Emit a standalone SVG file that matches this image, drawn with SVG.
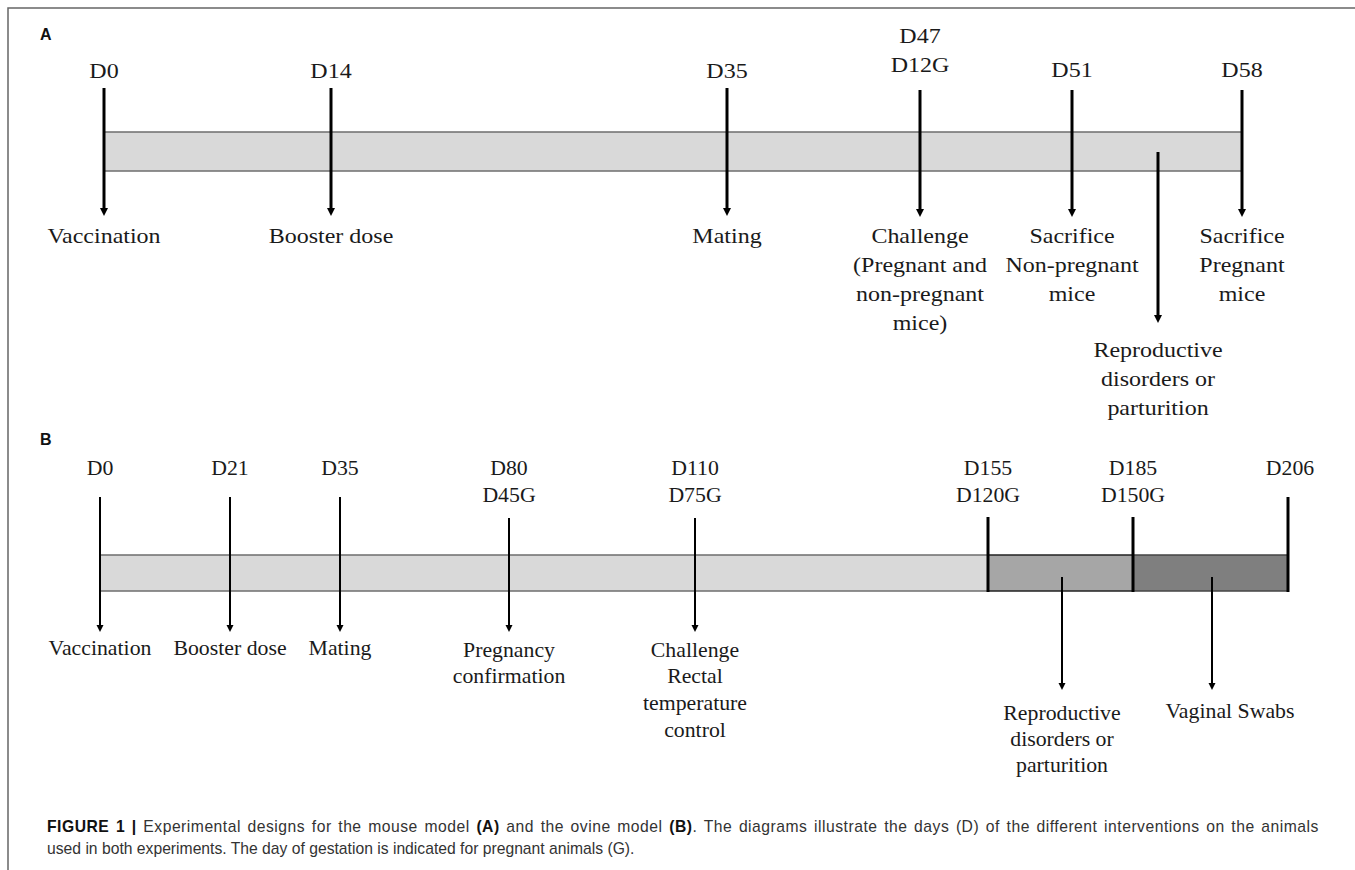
<svg xmlns="http://www.w3.org/2000/svg" width="1355" height="870" viewBox="0 0 1355 870">
<style>
.t{font-family:"Liberation Serif","Times New Roman",serif;font-size:20px;fill:#1a1a1a;text-anchor:middle}
.pl{font-family:"Liberation Sans",Arial,sans-serif;font-size:16px;font-weight:bold;fill:#111}
.cap{font-family:"Liberation Sans",Arial,sans-serif;font-size:15.7px;fill:#333}
.b{font-weight:bold;fill:#111}
.arA{stroke:#000;stroke-width:3;fill:none}
.arB{stroke:#000;stroke-width:2;fill:none}
.tick{stroke:#000;stroke-width:3;fill:none}
.bar{stroke:#6e6e6e;stroke-width:1.5}
</style>
<defs>
<marker id="hA" markerUnits="userSpaceOnUse" markerWidth="9" markerHeight="9" refX="0" refY="4" orient="auto"><path d="M0,0 L8,4 L0,8 z" fill="#000"/></marker>
<marker id="hB" markerUnits="userSpaceOnUse" markerWidth="8" markerHeight="8" refX="0" refY="3.5" orient="auto"><path d="M0,0 L7,3.5 L0,7 z" fill="#000"/></marker>
</defs>
<rect width="1355" height="870" fill="#fff"/>
<path d="M8,870 V8 H1355" stroke="#666" stroke-width="1.5" fill="none"/>

<g id="panelA">
<text class="pl" x="40" y="40">A</text>
<rect id="barA" class="bar" x="104" y="132" width="1138" height="39" fill="#d9d9d9"/>
</g>

<g id="panelB">
<text class="pl" x="40" y="445">B</text>
<rect class="bar" x="100" y="555" width="888" height="36" fill="#d9d9d9"/>
<rect x="988" y="555" width="145" height="36" fill="#a6a6a6" stroke="#222" stroke-width="1.5"/>
<rect x="1133" y="555" width="155" height="36" fill="#7f7f7f" stroke="#444" stroke-width="1.5"/>
<line class="tick" x1="988" y1="517" x2="988" y2="592"/>
<line class="tick" x1="1133" y1="517" x2="1133" y2="592"/>
<line class="tick" x1="1288" y1="497" x2="1288" y2="592" stroke-width="2.5"/>
</g>

<g id="connectors">
<line class="arA" x1="104" y1="88" x2="104" y2="208" marker-end="url(#hA)"/>
<line class="arA" x1="331" y1="88" x2="331" y2="208" marker-end="url(#hA)"/>
<line class="arA" x1="727" y1="88" x2="727" y2="208" marker-end="url(#hA)"/>
<line class="arA" x1="920" y1="90" x2="920" y2="209" marker-end="url(#hA)"/>
<line class="arA" x1="1072" y1="90" x2="1072" y2="209" marker-end="url(#hA)"/>
<line class="arA" x1="1242" y1="90" x2="1242" y2="209" marker-end="url(#hA)"/>
<line class="arA" x1="1158" y1="152" x2="1158" y2="315" marker-end="url(#hA)"/>

<line class="arB" x1="100" y1="497" x2="100" y2="625" marker-end="url(#hB)"/>
<line class="arB" x1="230" y1="497" x2="230" y2="625" marker-end="url(#hB)"/>
<line class="arB" x1="340" y1="497" x2="340" y2="625" marker-end="url(#hB)"/>
<line class="arB" x1="509" y1="518" x2="509" y2="625" marker-end="url(#hB)"/>
<line class="arB" x1="695" y1="518" x2="695" y2="625" marker-end="url(#hB)"/>
<line class="arB" x1="1062" y1="577" x2="1062" y2="683" marker-end="url(#hB)"/>
<line class="arB" x1="1212" y1="577" x2="1212" y2="683" marker-end="url(#hB)"/>
</g>

<g id="nodesA">
<g id="a-d0"><text class="t" transform="translate(104 78) scale(1.2 1)">D0</text><text class="t" transform="translate(104 243) scale(1.2 1)">Vaccination</text></g>
<g id="a-d14"><text class="t" transform="translate(331 78) scale(1.2 1)">D14</text><text class="t" transform="translate(331 243) scale(1.2 1)">Booster dose</text></g>
<g id="a-d35"><text class="t" transform="translate(727 78) scale(1.2 1)">D35</text><text class="t" transform="translate(727 243) scale(1.2 1)">Mating</text></g>
<g id="a-d47"><text class="t" transform="translate(920 43) scale(1.2 1)"><tspan x="0" y="0">D47</tspan><tspan x="0" y="29">D12G</tspan></text>
<text class="t" transform="translate(920 243) scale(1.2 1)"><tspan x="0" y="0">Challenge</tspan><tspan x="0" y="29">(Pregnant and</tspan><tspan x="0" y="58">non-pregnant</tspan><tspan x="0" y="87">mice)</tspan></text></g>
<g id="a-d51"><text class="t" transform="translate(1072 77) scale(1.2 1)">D51</text>
<text class="t" transform="translate(1072 243) scale(1.2 1)"><tspan x="0" y="0">Sacrifice</tspan><tspan x="0" y="29">Non-pregnant</tspan><tspan x="0" y="58">mice</tspan></text></g>
<g id="a-d58"><text class="t" transform="translate(1242 77) scale(1.2 1)">D58</text>
<text class="t" transform="translate(1242 243) scale(1.2 1)"><tspan x="0" y="0">Sacrifice</tspan><tspan x="0" y="29">Pregnant</tspan><tspan x="0" y="58">mice</tspan></text></g>
<g id="a-repro"><text class="t" transform="translate(1158 357) scale(1.2 1)"><tspan x="0" y="0">Reproductive</tspan><tspan x="0" y="29">disorders or</tspan><tspan x="0" y="58">parturition</tspan></text></g>
</g>

<g id="nodesB">
<g id="b-d0"><text class="t" transform="translate(100 475) scale(1.09 1)">D0</text><text class="t" transform="translate(100 655) scale(1.09 1)">Vaccination</text></g>
<g id="b-d21"><text class="t" transform="translate(230 475) scale(1.09 1)">D21</text><text class="t" transform="translate(230 655) scale(1.09 1)">Booster dose</text></g>
<g id="b-d35"><text class="t" transform="translate(340 475) scale(1.09 1)">D35</text><text class="t" transform="translate(340 655) scale(1.09 1)">Mating</text></g>
<g id="b-d80"><text class="t" transform="translate(509 475) scale(1.09 1)"><tspan x="0" y="0">D80</tspan><tspan x="0" y="27">D45G</tspan></text>
<text class="t" transform="translate(509 657) scale(1.09 1)"><tspan x="0" y="0">Pregnancy</tspan><tspan x="0" y="26">confirmation</tspan></text></g>
<g id="b-d110"><text class="t" transform="translate(695 475) scale(1.09 1)"><tspan x="0" y="0">D110</tspan><tspan x="0" y="27">D75G</tspan></text>
<text class="t" transform="translate(695 657) scale(1.09 1)"><tspan x="0" y="0">Challenge</tspan><tspan x="0" y="26.5">Rectal</tspan><tspan x="0" y="53">temperature</tspan><tspan x="0" y="80">control</tspan></text></g>
<g id="b-d155"><text class="t" transform="translate(988 475) scale(1.09 1)"><tspan x="0" y="0">D155</tspan><tspan x="0" y="27">D120G</tspan></text></g>
<g id="b-d185"><text class="t" transform="translate(1133 475) scale(1.09 1)"><tspan x="0" y="0">D185</tspan><tspan x="0" y="27">D150G</tspan></text></g>
<g id="b-d206"><text class="t" transform="translate(1290 475) scale(1.09 1)">D206</text></g>
<g id="b-repro"><text class="t" transform="translate(1062 720) scale(1.09 1)"><tspan x="0" y="0">Reproductive</tspan><tspan x="0" y="26">disorders or</tspan><tspan x="0" y="52">parturition</tspan></text></g>
<g id="b-swabs"><text class="t" transform="translate(1230 718) scale(1.09 1)">Vaginal Swabs</text></g>
</g>

<g id="caption">
<text class="cap" x="47" y="832" letter-spacing="0.5" word-spacing="1.8"><tspan class="b">FIGURE 1 |</tspan> Experimental designs for the mouse model <tspan class="b">(A)</tspan> and the ovine model <tspan class="b">(B)</tspan>. The diagrams illustrate the days (D) of the different interventions on the animals</text>
<text class="cap" x="47" y="854">used in both experiments. The day of gestation is indicated for pregnant animals (G).</text>
</g>
</svg>
